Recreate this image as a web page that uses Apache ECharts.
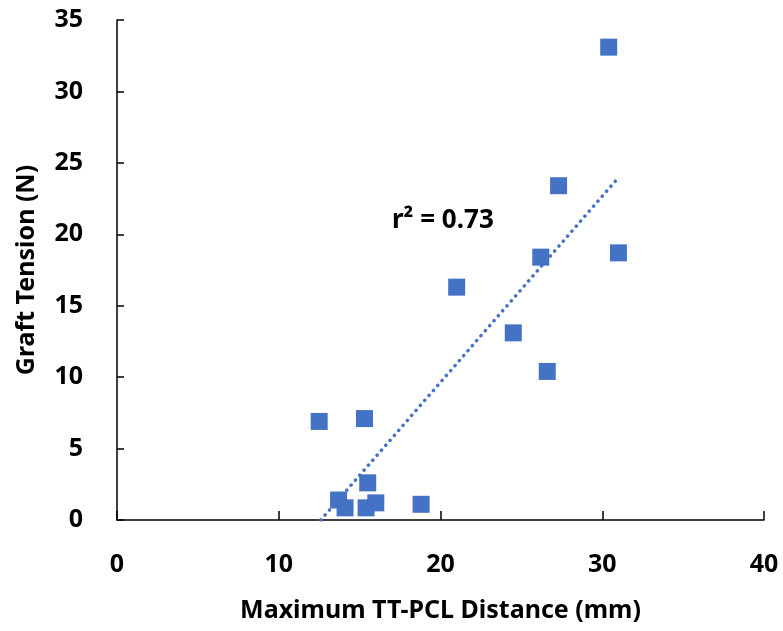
<!DOCTYPE html>
<html>
<head>
<meta charset="utf-8">
<script src="https://cdn.jsdelivr.net/npm/echarts@6/dist/echarts.min.js"></script>
<style>
  html, body { margin: 0; padding: 0; background: #fff; }
  #chart { width: 783px; height: 631px; }
</style>
</head>
<body>
<div id="chart"></div>
<script>
// values
var distance = [30.4, 27.3, 26.2, 31.0, 21.0, 24.5, 26.6, 12.5, 15.3, 15.5, 13.7, 14.1, 15.4, 16.0, 18.8];
var tension  = [33.1, 23.4, 18.4, 18.7, 16.3, 13.1, 10.4, 6.9, 7.1, 2.6, 1.4, 0.85, 0.85, 1.2, 1.1];
var xTicks = [0, 10, 20, 30, 40];
var yTicks = [0, 5, 10, 15, 20, 25, 30, 35];
var r2Label = 'r² = 0.73';

var points = distance.map(function (x, i) { return [x, tension[i]]; });

// least squares fit for the dotted trend line
var n = distance.length, mx = 0, my = 0;
for (var i = 0; i < n; i++) { mx += distance[i]; my += tension[i]; }
mx /= n; my /= n;
var sxy = 0, sxx = 0;
for (var i = 0; i < n; i++) {
    sxy += (distance[i] - mx) * (tension[i] - my);
    sxx += (distance[i] - mx) * (distance[i] - mx);
}
var slope = sxy / sxx, icpt = my - slope * mx;
var x0 = Math.min.apply(null, distance), x1 = Math.max.apply(null, distance);
// start where the fit crosses zero (it is clipped at the axis)
x0 = Math.max(x0, -icpt / slope);
var trend = [[x0, slope * x0 + icpt], [x1, slope * x1 + icpt]];

var font = 'Noto Sans';
var chart = echarts.init(document.getElementById('chart'));
var option = {
    animation: false,
    grid: { left: 117, right: 19, top: 20, bottom: 111 },
    xAxis: {
        type: 'value',
        min: xTicks[0],
        max: xTicks[xTicks.length - 1],
        interval: 10,
        name: 'Maximum TT-PCL Distance (mm)',
        nameLocation: 'middle',
        nameGap: 78,
        nameTextStyle: { color: '#000', fontFamily: font, fontWeight: 'bold', fontSize: 25 },
        axisLine: { lineStyle: { color: '#000', width: 1.5 } },
        axisTick: { inside: true, length: 9, lineStyle: { color: '#000', width: 1.5 } },
        axisLabel: { color: '#000', fontFamily: font, fontWeight: 'bold', fontSize: 25, margin: 32 },
        splitLine: { show: false }
    },
    yAxis: {
        type: 'value',
        min: yTicks[0],
        max: yTicks[yTicks.length - 1],
        interval: 5,
        name: 'Graft Tension (N)',
        nameLocation: 'middle',
        nameGap: 78,
        nameTextStyle: { color: '#000', fontFamily: font, fontWeight: 'bold', fontSize: 25 },
        axisLine: { show: true, lineStyle: { color: '#000', width: 1.5 } },
        axisTick: { show: true, inside: true, length: 7, lineStyle: { color: '#000', width: 1.5 } },
        axisLabel: { color: '#000', fontFamily: font, fontWeight: 'bold', fontSize: 25, margin: 34 },
        splitLine: { show: false }
    },
    series: [
        {
            type: 'scatter',
            data: points,
            symbol: 'rect',
            symbolSize: 17,
            itemStyle: { color: '#4472C4', opacity: 1 },
            z: 3
        },
        {
            type: 'line',
            data: trend,
            symbol: 'none',
            lineStyle: { color: '#4472C4', width: 3.5, type: [0.1, 6.5], cap: 'round' },
            z: 2
        }
    ],
    graphic: [
        {
            type: 'text',
            left: 392,
            top: 208,
            style: { text: r2Label, fill: '#000', font: 'bold 26px "Noto Sans"' }
        }
    ]
};
chart.setOption(option);
</script>
</body>
</html>
